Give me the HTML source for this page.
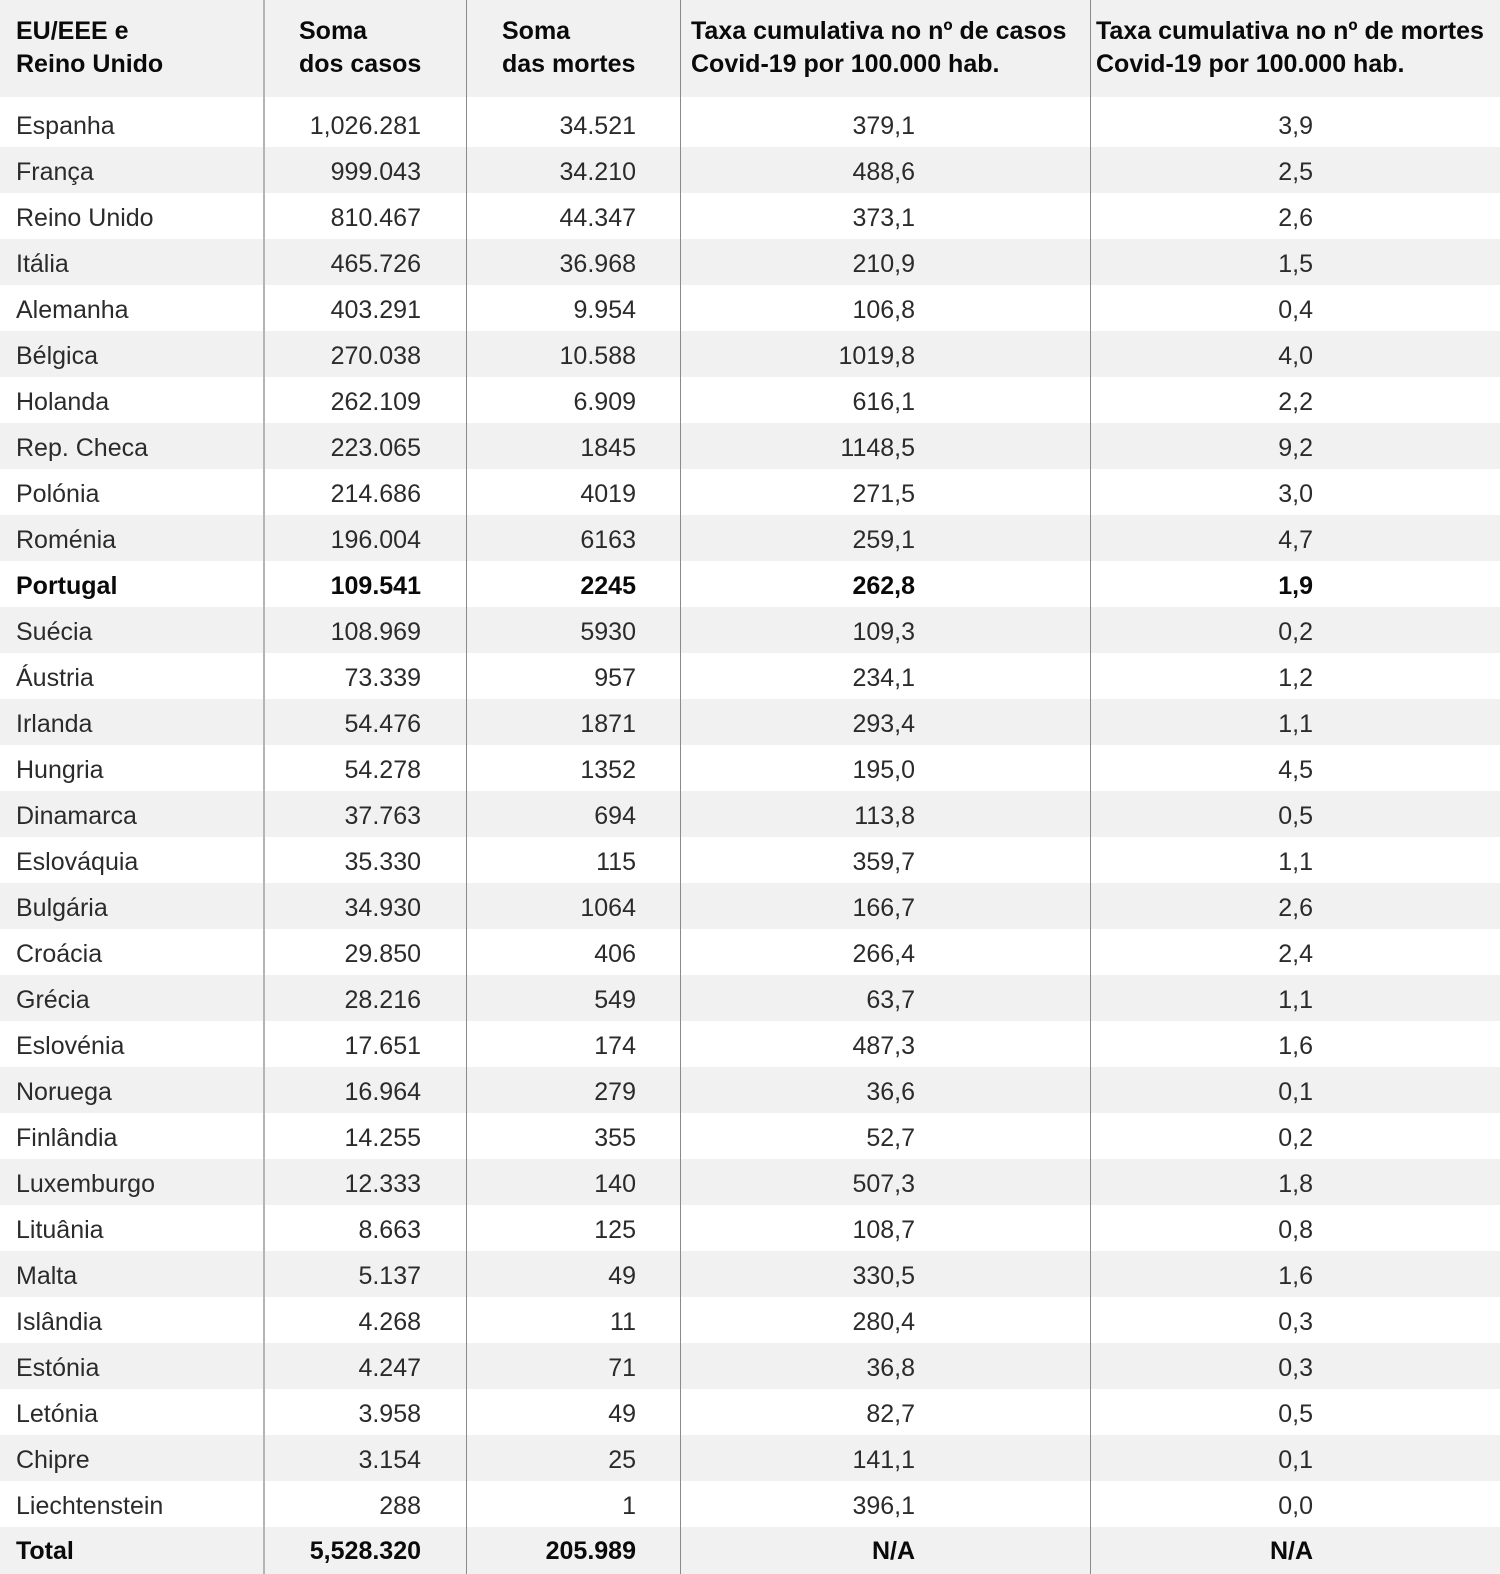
<!DOCTYPE html>
<html><head><meta charset="utf-8">
<style>
html,body{margin:0;padding:0;background:#fff;}
#w{position:relative;width:1500px;height:1574px;overflow:hidden;font-family:"Liberation Sans",Arial,sans-serif;font-size:25px;color:#2b2b2b;}
.r{position:absolute;left:0;width:1500px;height:46px;}
.g{background:#f1f1f1;}
.r span{position:absolute;top:13px;line-height:25px;white-space:nowrap;}
.c1{left:16px}
.c2{right:1079px}
.c3{right:864px}
.c4{right:585px}
.c5{right:187px}
.b{font-weight:bold;color:#0a0a0a;}
.h{position:absolute;left:0;top:0;width:1500px;height:97px;background:#f1f1f1;font-weight:bold;color:#0a0a0a;}
.h div{position:absolute;top:15px;line-height:33px;white-space:nowrap;}
.v{position:absolute;top:0;height:1574px;width:1px;background:#8a8a8a;}
</style></head><body><div id="w">
<div class="h">
<div style="left:16px">EU/EEE e<br>Reino Unido</div>
<div style="left:299px">Soma<br>dos casos</div>
<div style="left:502px">Soma<br>das mortes</div>
<div style="left:691px">Taxa cumulativa no nº de casos<br>Covid-19 por 100.000 hab.</div>
<div style="left:1096px">Taxa cumulativa no nº de mortes<br>Covid-19 por 100.000 hab.</div>
</div>

<div class="r" style="top:97px;height:50px"><span class="c1" style="top:17px">Espanha</span><span class="c2" style="top:17px">1,026.281</span><span class="c3" style="top:17px">34.521</span><span class="c4" style="top:17px">379,1</span><span class="c5" style="top:17px">3,9</span></div>
<div class="r g" style="top:147px"><span class="c1">França</span><span class="c2">999.043</span><span class="c3">34.210</span><span class="c4">488,6</span><span class="c5">2,5</span></div>
<div class="r" style="top:193px"><span class="c1">Reino Unido</span><span class="c2">810.467</span><span class="c3">44.347</span><span class="c4">373,1</span><span class="c5">2,6</span></div>
<div class="r g" style="top:239px"><span class="c1">Itália</span><span class="c2">465.726</span><span class="c3">36.968</span><span class="c4">210,9</span><span class="c5">1,5</span></div>
<div class="r" style="top:285px"><span class="c1">Alemanha</span><span class="c2">403.291</span><span class="c3">9.954</span><span class="c4">106,8</span><span class="c5">0,4</span></div>
<div class="r g" style="top:331px"><span class="c1">Bélgica</span><span class="c2">270.038</span><span class="c3">10.588</span><span class="c4">1019,8</span><span class="c5">4,0</span></div>
<div class="r" style="top:377px"><span class="c1">Holanda</span><span class="c2">262.109</span><span class="c3">6.909</span><span class="c4">616,1</span><span class="c5">2,2</span></div>
<div class="r g" style="top:423px"><span class="c1">Rep. Checa</span><span class="c2">223.065</span><span class="c3">1845</span><span class="c4">1148,5</span><span class="c5">9,2</span></div>
<div class="r" style="top:469px"><span class="c1">Polónia</span><span class="c2">214.686</span><span class="c3">4019</span><span class="c4">271,5</span><span class="c5">3,0</span></div>
<div class="r g" style="top:515px"><span class="c1">Roménia</span><span class="c2">196.004</span><span class="c3">6163</span><span class="c4">259,1</span><span class="c5">4,7</span></div>
<div class="r" style="top:561px"><span class="c1 b">Portugal</span><span class="c2 b">109.541</span><span class="c3 b">2245</span><span class="c4 b">262,8</span><span class="c5 b">1,9</span></div>
<div class="r g" style="top:607px"><span class="c1">Suécia</span><span class="c2">108.969</span><span class="c3">5930</span><span class="c4">109,3</span><span class="c5">0,2</span></div>
<div class="r" style="top:653px"><span class="c1">Áustria</span><span class="c2">73.339</span><span class="c3">957</span><span class="c4">234,1</span><span class="c5">1,2</span></div>
<div class="r g" style="top:699px"><span class="c1">Irlanda</span><span class="c2">54.476</span><span class="c3">1871</span><span class="c4">293,4</span><span class="c5">1,1</span></div>
<div class="r" style="top:745px"><span class="c1">Hungria</span><span class="c2">54.278</span><span class="c3">1352</span><span class="c4">195,0</span><span class="c5">4,5</span></div>
<div class="r g" style="top:791px"><span class="c1">Dinamarca</span><span class="c2">37.763</span><span class="c3">694</span><span class="c4">113,8</span><span class="c5">0,5</span></div>
<div class="r" style="top:837px"><span class="c1">Eslováquia</span><span class="c2">35.330</span><span class="c3">115</span><span class="c4">359,7</span><span class="c5">1,1</span></div>
<div class="r g" style="top:883px"><span class="c1">Bulgária</span><span class="c2">34.930</span><span class="c3">1064</span><span class="c4">166,7</span><span class="c5">2,6</span></div>
<div class="r" style="top:929px"><span class="c1">Croácia</span><span class="c2">29.850</span><span class="c3">406</span><span class="c4">266,4</span><span class="c5">2,4</span></div>
<div class="r g" style="top:975px"><span class="c1">Grécia</span><span class="c2">28.216</span><span class="c3">549</span><span class="c4">63,7</span><span class="c5">1,1</span></div>
<div class="r" style="top:1021px"><span class="c1">Eslovénia</span><span class="c2">17.651</span><span class="c3">174</span><span class="c4">487,3</span><span class="c5">1,6</span></div>
<div class="r g" style="top:1067px"><span class="c1">Noruega</span><span class="c2">16.964</span><span class="c3">279</span><span class="c4">36,6</span><span class="c5">0,1</span></div>
<div class="r" style="top:1113px"><span class="c1">Finlândia</span><span class="c2">14.255</span><span class="c3">355</span><span class="c4">52,7</span><span class="c5">0,2</span></div>
<div class="r g" style="top:1159px"><span class="c1">Luxemburgo</span><span class="c2">12.333</span><span class="c3">140</span><span class="c4">507,3</span><span class="c5">1,8</span></div>
<div class="r" style="top:1205px"><span class="c1">Lituânia</span><span class="c2">8.663</span><span class="c3">125</span><span class="c4">108,7</span><span class="c5">0,8</span></div>
<div class="r g" style="top:1251px"><span class="c1">Malta</span><span class="c2">5.137</span><span class="c3">49</span><span class="c4">330,5</span><span class="c5">1,6</span></div>
<div class="r" style="top:1297px"><span class="c1">Islândia</span><span class="c2">4.268</span><span class="c3">11</span><span class="c4">280,4</span><span class="c5">0,3</span></div>
<div class="r g" style="top:1343px"><span class="c1">Estónia</span><span class="c2">4.247</span><span class="c3">71</span><span class="c4">36,8</span><span class="c5">0,3</span></div>
<div class="r" style="top:1389px"><span class="c1">Letónia</span><span class="c2">3.958</span><span class="c3">49</span><span class="c4">82,7</span><span class="c5">0,5</span></div>
<div class="r g" style="top:1435px"><span class="c1">Chipre</span><span class="c2">3.154</span><span class="c3">25</span><span class="c4">141,1</span><span class="c5">0,1</span></div>
<div class="r" style="top:1481px"><span class="c1">Liechtenstein</span><span class="c2">288</span><span class="c3">1</span><span class="c4">396,1</span><span class="c5">0,0</span></div>
<div class="r g" style="top:1527px;height:47px"><span class="c1 b" style="top:12px">Total</span><span class="c2 b" style="top:12px">5,528.320</span><span class="c3 b" style="top:12px">205.989</span><span class="c4 b" style="top:12px">N/A</span><span class="c5 b" style="top:12px">N/A</span></div>

<div class="v" style="left:263px;width:2px;background:#b4b4b4"></div>
<div class="v" style="left:466px"></div>
<div class="v" style="left:680px"></div>
<div class="v" style="left:1090px"></div>
</div></body></html>
